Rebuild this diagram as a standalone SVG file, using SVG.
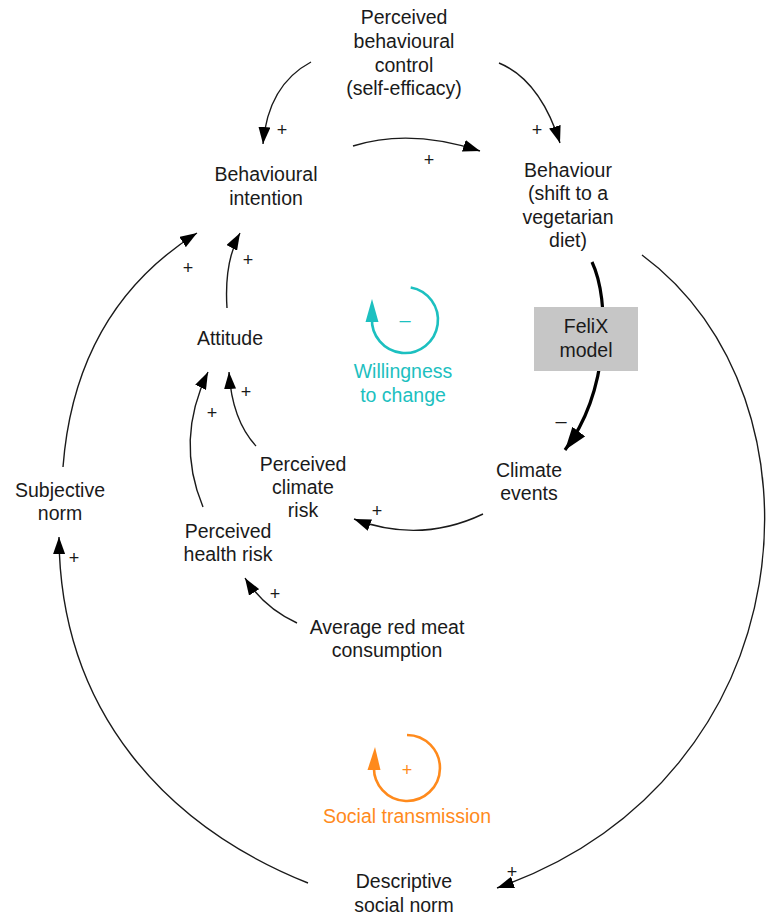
<svg xmlns="http://www.w3.org/2000/svg" width="767" height="917" viewBox="0 0 767 917">
<style>
text{font-family:"Liberation Sans",Arial,sans-serif;fill:#1a1a1a}
.n{font-size:19.5px;text-anchor:middle}
.s{font-size:18px;text-anchor:middle}
.m{font-size:20px;text-anchor:middle}
.c{stroke:#1a1a1a;stroke-width:1.4;fill:none;marker-end:url(#ah)}
.cyan{fill:#1cc0c0}
.orange{fill:#ff8a1c}
</style>
<defs>
<marker id="ah" markerUnits="userSpaceOnUse" markerWidth="18" markerHeight="12" refX="17" refY="6" orient="auto">
<path d="M0,0 L17,6 L0,12 z" fill="#000"/>
</marker>
<marker id="ahb" markerUnits="userSpaceOnUse" markerWidth="24" markerHeight="16" refX="23" refY="8" orient="auto">
<path d="M0,0 L23,8 L0,16 z" fill="#000"/>
</marker>
</defs>
<rect width="767" height="917" fill="#fff"/>
<g id="connectors">
<path class="c" d="M311,62 Q268,85 263,144"/>
<path class="c" d="M499,63 Q540,80 560,143"/>
<path class="c" d="M353,146 Q410,128 480,151"/>
<path d="M592,262 C610,300 610,390 565,450" stroke="#000" stroke-width="3.2" fill="none" marker-end="url(#ahb)"/>
<path class="c" d="M642,255 C835,397 810,778 497,888"/>
<path class="c" d="M308,883 C168,827 60,713 59,537"/>
<path class="c" d="M63,467 Q75,310 197,233"/>
<path class="c" d="M227,308 Q224,262 240,233"/>
<path class="c" d="M256,446 Q232,420 229,372"/>
<path class="c" d="M203,507 Q175,440 208,372"/>
<path class="c" d="M483,514 Q420,544 354,519"/>
<path class="c" d="M297,623 Q264,608 245,578"/>
<g>
<text class="s" x="282" y="136">+</text>
<text class="s" x="537" y="136">+</text>
<text class="s" x="429" y="166">+</text>
<text class="s" x="188" y="274">+</text>
<text class="s" x="248" y="266">+</text>
<text class="s" x="246" y="398">+</text>
<text class="s" x="212" y="419">+</text>
<text class="s" x="74" y="564">+</text>
<text class="s" x="377" y="517">+</text>
<text class="s" x="275" y="600">+</text>
<text class="s" x="512" y="878">+</text>
<text class="m" x="561" y="428">–</text>
</g>
</g>
<g id="node-pbc">
<text class="n" x="404" y="24">Perceived</text>
<text class="n" x="404" y="48">behavioural</text>
<text class="n" x="404" y="72">control</text>
<text class="n" x="404" y="95">(self-efficacy)</text>
</g>
<g id="node-intention">
<text class="n" x="266" y="181">Behavioural</text>
<text class="n" x="266" y="205">intention</text>
</g>
<g id="node-behaviour">
<text class="n" x="568" y="177">Behaviour</text>
<text class="n" x="568" y="200">(shift to a</text>
<text class="n" x="568" y="224">vegetarian</text>
<text class="n" x="568" y="247">diet)</text>
</g>
<g id="node-felix">
<rect x="534" y="307" width="104" height="64" fill="#c6c6c6"/>
<text class="n" x="586" y="333">FeliX</text>
<text class="n" x="586" y="357">model</text>
</g>
<g id="node-climate">
<text class="n" x="529" y="477">Climate</text>
<text class="n" x="529" y="500">events</text>
</g>
<g id="loop-willingness">
<path d="M410.7,287.5 A33,33 0 1 1 372,318" stroke="#1cc0c0" stroke-width="2.6" fill="none"/>
<path d="M365.5,322 L378.5,322 L372,299 z" fill="#1cc0c0"/>
<text class="m cyan" x="405" y="327">–</text>
<text class="n cyan" x="403" y="378">Willingness</text>
<text class="n cyan" x="403" y="402">to change</text>
</g>
<g id="node-attitude">
<text class="n" x="230" y="345">Attitude</text>
</g>
<g id="node-subjective">
<text class="n" x="60" y="497">Subjective</text>
<text class="n" x="60" y="520">norm</text>
</g>
<g id="node-climate-risk">
<text class="n" x="303" y="471">Perceived</text>
<text class="n" x="303" y="494">climate</text>
<text class="n" x="303" y="517">risk</text>
</g>
<g id="node-health-risk">
<text class="n" x="228" y="538">Perceived</text>
<text class="n" x="228" y="561">health risk</text>
</g>
<g id="node-red-meat">
<text class="n" x="387" y="634">Average red meat</text>
<text class="n" x="387" y="657">consumption</text>
</g>
<g id="loop-social">
<path d="M407,735 A33,33 0 1 1 374,766" stroke="#ff8a1c" stroke-width="2.6" fill="none"/>
<path d="M367.5,770 L380.5,770 L375,747 z" fill="#ff8a1c"/>
<text class="s orange" x="407" y="776">+</text>
<text class="n orange" x="407" y="823">Social transmission</text>
</g>
<g id="node-descriptive">
<text class="n" x="404" y="888">Descriptive</text>
<text class="n" x="404" y="912">social norm</text>
</g>
</svg>
